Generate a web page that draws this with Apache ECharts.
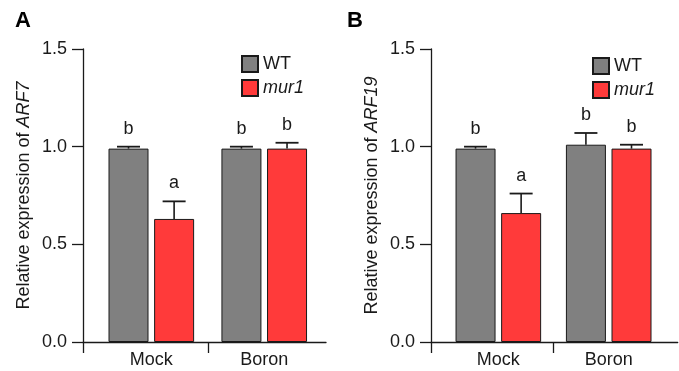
<!DOCTYPE html>
<html><head><meta charset="utf-8">
<script src="https://cdn.jsdelivr.net/npm/echarts@6/dist/echarts.min.js"></script>
<style>html,body{margin:0;padding:0;background:#fff}#c{width:679px;height:371px}</style>
</head><body><div id="c"></div>
<script>
// ---- data ----
const categories = ['Mock', 'Boron'];
const seriesNames = ['WT', 'mur1'];
const yTicks = [0, 0.5, 1.0, 1.5];
const arf7WT = [0.99, 0.99];
const arf7WTErr = [0.01, 0.01];
const arf7Mur1 = [0.63, 0.99];
const arf7Mur1Err = [0.09, 0.03];
const arf7WTLetters = ['b', 'b'];
const arf7Mur1Letters = ['a', 'b'];
const arf19WT = [0.99, 1.01];
const arf19WTErr = [0.01, 0.06];
const arf19Mur1 = [0.66, 0.99];
const arf19Mur1Err = [0.10, 0.02];
const arf19WTLetters = ['b', 'b'];
const arf19Mur1Letters = ['a', 'b'];

// ---- style / layout ----
const FONT = '"Liberation Sans", Arial, sans-serif';
const INK = '#1a1a1a';
const COLORS = ['#808080', '#ff3a3a'];
const BAR_W = 40, GAP_PX = 5.6;
const BAR_OFF = (BAR_W + GAP_PX) / 2;
const CAP = 11.5, LETTER_GAP = 9;
const axisLine = { color: INK, width: 1.3 };

const panels = [
  { gene: 'ARF7', wt: arf7WT, wtE: arf7WTErr, mu: arf7Mur1, muE: arf7Mur1Err, wtL: arf7WTLetters, muL: arf7Mur1Letters,
    left: 83, width: 243, xMin: -0.605, xMax: 1.547, legLeft: 241, legTop: 55, title: 'A', titleLeft: 15 },
  { gene: 'ARF19', wt: arf19WT, wtE: arf19WTErr, mu: arf19Mur1, muE: arf19Mur1Err, wtL: arf19WTLetters, muL: arf19Mur1Letters,
    left: 431, width: 246.7, xMin: -0.61, xMax: 1.625, legLeft: 592, legTop: 57, title: 'B', titleLeft: 347 }
];

function errSeries(p, means, errs, letters, sign) {
  return {
    type: 'custom', xAxisIndex: p, yAxisIndex: p, z: 5, silent: true,
    data: categories.map((c, i) => [i, means[i], errs[i]]),
    renderItem(params, api) {
      const x = api.value(0), m = api.value(1), e = api.value(2);
      const base = api.coord([x, m]);
      const top = api.coord([x, m + e]);
      const cx = base[0] + sign * BAR_OFF;
      return { type: 'group', children: [
        { type: 'line', shape: { x1: cx, y1: base[1], x2: cx, y2: top[1] }, style: { stroke: INK, lineWidth: 1.6 } },
        { type: 'line', shape: { x1: cx - CAP, y1: top[1], x2: cx + CAP, y2: top[1] }, style: { stroke: INK, lineWidth: 1.8 } },
        { type: 'text', x: cx, y: top[1] - LETTER_GAP,
          style: { text: letters[params.dataIndex], fontSize: 18, fontFamily: FONT, fill: INK, align: 'center', verticalAlign: 'bottom' } }
      ] };
    }
  };
}

const option = {
  animation: false,
  backgroundColor: '#fff',
  title: panels.map(p => ({ text: p.title, left: p.titleLeft, top: 10, padding: 0,
    textStyle: { fontSize: 22, fontWeight: 'bold', fontFamily: FONT, color: '#000' } })),
  legend: panels.map(p => ({
    data: seriesNames, orient: 'vertical', left: p.legLeft, top: p.legTop, padding: 0,
    itemWidth: 16, itemHeight: 16, itemGap: 6, icon: 'rect', selectedMode: false,
    formatter: n => n === 'mur1' ? '{i|' + n + '}' : n,
    textStyle: { fontSize: 18, fontFamily: FONT, color: INK,
      rich: { i: { fontStyle: 'italic', fontSize: 18, fontFamily: FONT, color: INK } } }
  })),
  grid: panels.map(p => ({ left: p.left, width: p.width, top: 49, height: 293, containLabel: false })),
  xAxis: panels.map((p, i) => ({
    type: 'value', gridIndex: i, min: p.xMin, max: p.xMax,
    axisLine: { show: true, onZero: false, lineStyle: axisLine },
    axisTick: { show: true, length: 11, lineStyle: axisLine, customValues: [p.xMin, 0.5] },
    axisLabel: { customValues: [0, 1], formatter: v => categories[Math.round(v)] || '',
      margin: 9, fontSize: 18, fontFamily: FONT, color: INK },
    splitLine: { show: false }
  })),
  yAxis: panels.map((p, i) => ({
    type: 'value', gridIndex: i, min: yTicks[0], max: yTicks[yTicks.length - 1], interval: 0.5,
    axisLine: { show: true, onZero: false, lineStyle: axisLine },
    axisTick: { show: true, length: 11, lineStyle: axisLine },
    axisLabel: { margin: 16, fontSize: 18, fontFamily: FONT, color: INK, formatter: v => v.toFixed(1) },
    splitLine: { show: false },
    name: 'Relative expression of {i|' + p.gene + '}', nameLocation: 'middle', nameGap: 50,
    nameTextStyle: { fontSize: 18, fontFamily: FONT, color: INK,
      rich: { i: { fontStyle: 'italic', fontSize: 18, fontFamily: FONT, color: INK } } }
  })),
  series: []
};

panels.forEach((p, i) => {
  [[p.wt, 0], [p.mu, 1]].forEach(([vals, s]) => {
    option.series.push({
      name: seriesNames[s], type: 'bar', xAxisIndex: i, yAxisIndex: i,
      barWidth: BAR_W, barGap: (GAP_PX / BAR_W * 100) + '%',
      data: categories.map((c, k) => [k, vals[k]]),
      itemStyle: { color: COLORS[s], borderColor: INK, borderWidth: 1 }
    });
  });
  option.series.push(errSeries(i, p.wt, p.wtE, p.wtL, -1));
  option.series.push(errSeries(i, p.mu, p.muE, p.muL, 1));
});

const chart = echarts.init(document.getElementById('c'), null, { renderer: 'canvas' });
chart.setOption(option);
</script>
</body></html>
